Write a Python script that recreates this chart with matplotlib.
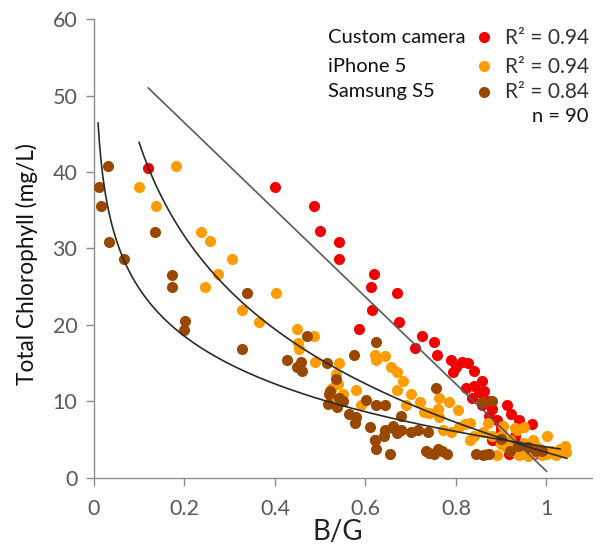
import numpy as np
import matplotlib
matplotlib.use("Agg")
import matplotlib.pyplot as plt

plt.rcParams['font.family'] = ['Lato', 'DejaVu Sans']

# B/G ratio vs total chlorophyll
custom_x = [0.119, 0.400, 0.487, 0.500, 0.542, 0.542, 0.619, 0.612, 0.670, 0.614,
            0.674, 0.586, 0.725, 0.751, 0.710, 0.757, 0.789, 0.814, 0.827, 0.793,
            0.823, 0.857, 0.862, 0.836, 0.857, 0.912, 0.921, 0.874, 0.968, 0.900,
            0.891, 0.934, 0.972, 0.917, 0.800, 0.840, 0.850, 0.870, 0.880, 0.890,
            0.900, 0.930, 0.950, 0.960, 0.880, 0.940, 0.840]
custom_y = [40.6, 38.0, 35.5, 32.3, 30.9, 28.6, 26.7, 25.0, 24.2, 21.9,
            20.4, 19.5, 18.6, 17.7, 17.0, 16.0, 15.4, 15.2, 15.0, 13.9,
            11.8, 12.7, 11.3, 10.4, 9.5, 9.5, 8.3, 8.1, 7.0, 6.5,
            4.9, 4.4, 3.1, 3.1, 14.5, 14.0, 11.2, 10.0, 9.0, 7.5,
            6.0, 5.5, 4.0, 3.0, 5.0, 7.5, 12.0]

iphone_x = [0.182, 0.100, 0.138, 0.237, 0.257, 0.304, 0.274, 0.246, 0.403, 0.328,
            0.365, 0.449, 0.487, 0.450, 0.454, 0.489, 0.542, 0.534, 0.580, 0.623,
            0.643, 0.657, 0.670, 0.683, 0.670, 0.525, 0.591, 0.721, 0.729, 0.763,
            0.785, 0.804, 0.831, 0.831, 0.772, 0.806, 0.866, 0.900, 0.934, 0.951,
            1.002, 1.040, 1.044, 1.002, 0.968, 0.926, 0.900, 0.985, 0.678, 0.763,
            0.880, 0.910, 0.920, 0.940, 0.950, 0.960, 0.970, 0.980, 0.990, 1.010,
            1.020, 1.030, 0.890, 0.930, 0.905, 0.960, 0.870, 0.860, 0.840, 0.820,
            0.790, 0.740, 0.700, 0.690, 0.760, 0.620, 0.540, 0.550, 0.530]
iphone_y = [40.8, 38.0, 35.5, 32.2, 31.0, 28.6, 26.6, 25.0, 24.2, 21.9,
            20.4, 19.5, 18.6, 17.6, 16.8, 15.1, 15.0, 13.6, 11.5, 15.4,
            15.9, 14.5, 13.8, 12.7, 11.5, 11.8, 9.5, 9.9, 8.6, 10.4,
            9.9, 8.8, 7.2, 4.9, 6.3, 6.7, 3.1, 5.4, 6.3, 6.7,
            5.4, 4.2, 3.3, 3.1, 3.1, 3.5, 4.4, 3.8, 6.3, 7.9,
            5.5, 4.0, 5.0, 3.0, 4.5, 3.5, 5.0, 4.0, 3.0, 3.5,
            3.0, 3.8, 3.0, 6.5, 6.8, 2.8, 7.2, 6.0, 5.5, 7.0,
            6.0, 8.5, 11.0, 9.5, 9.0, 16.0, 12.3, 11.0, 10.4]

samsung_x = [0.010, 0.031, 0.016, 0.034, 0.066, 0.134, 0.172, 0.172, 0.338, 0.202,
             0.198, 0.328, 0.470, 0.623, 0.574, 0.427, 0.449, 0.457, 0.515, 0.534,
             0.521, 0.542, 0.517, 0.538, 0.563, 0.576, 0.602, 0.623, 0.644, 0.609,
             0.621, 0.623, 0.654, 0.644, 0.661, 0.678, 0.678, 0.717, 0.738, 0.755,
             0.734, 0.751, 0.780, 0.857, 0.844, 0.874, 0.900, 0.976, 0.938, 0.760,
             0.740, 0.770, 0.660, 0.670, 0.640, 0.620, 0.700, 0.550, 0.520, 0.580,
             0.460, 0.920, 0.960, 0.990, 0.860, 0.880]
samsung_y = [38.0, 40.8, 35.5, 30.9, 28.6, 32.2, 26.5, 25.0, 24.2, 20.5,
             19.3, 16.9, 18.6, 17.7, 16.0, 15.4, 14.5, 15.2, 15.0, 12.9,
             11.3, 10.4, 9.7, 9.3, 8.3, 7.2, 10.2, 9.5, 9.5, 6.7,
             4.9, 3.8, 3.1, 6.3, 6.5, 6.3, 8.1, 6.3, 6.0, 11.8,
             3.5, 3.1, 3.1, 9.9, 3.1, 3.1, 5.1, 3.5, 4.2, 3.8,
             3.2, 3.5, 6.8, 5.8, 5.5, 5.0, 6.0, 10.0, 11.0, 8.0,
             14.0, 3.5, 4.0, 3.5, 3.0, 10.0]

# trend lines: custom camera linear, phones logarithmic (y = a - b*ln x)
custom_fit = (57.85, -57.0)       # intercept, slope
custom_range = (0.12, 1.0)
iphone_fit = (3.31, 17.59)
iphone_range = (0.0996, 1.045)
samsung_fit = (4.03, 9.0)
samsung_range = (0.009, 1.03)

labels = ['Custom camera', 'iPhone 5', 'Samsung S5']
r2 = ['0.94', '0.94', '0.84']
colors = ['#f20000', '#ff9c00', '#9a4700']

W, H = 603, 548
fig = plt.figure(figsize=(W / 100, H / 100), dpi=100)
ax = fig.add_axes([94 / W, 1 - 477.7 / H, (591.7 - 94) / W, (477.7 - 19.3) / H])

ax.scatter(custom_x, custom_y, s=64, color=colors[0], zorder=2, linewidths=0)
ax.scatter(iphone_x, iphone_y, s=64, color=colors[1], zorder=3, linewidths=0)
ax.scatter(samsung_x, samsung_y, s=64, color=colors[2], zorder=4, linewidths=0)

xc = np.linspace(custom_range[0], custom_range[1], 100)
ax.plot(xc, custom_fit[0] + custom_fit[1] * xc, color='#5a5a5a', lw=1.2, zorder=5)
xi = np.linspace(iphone_range[0], iphone_range[1], 200)
ax.plot(xi, iphone_fit[0] - iphone_fit[1] * np.log(xi), color='#2b2b2b', lw=1.2, zorder=5)
xs = np.linspace(samsung_range[0], samsung_range[1], 300)
ax.plot(xs, samsung_fit[0] - samsung_fit[1] * np.log(xs), color='#2b2b2b', lw=1.2, zorder=5)

ax.set_xlim(0, 1.1)
ax.set_ylim(0, 60)
ax.set_xticks([0, 0.2, 0.4, 0.6, 0.8, 1.0])
ax.set_xticklabels(['0', '0.2', '0.4', '0.6', '0.8', '1'])
ax.set_yticks(range(0, 61, 10))

for s in ['top', 'right']:
    ax.spines[s].set_visible(False)
for s in ['left', 'bottom']:
    ax.spines[s].set_color('#8c8c8c')
    ax.spines[s].set_linewidth(1.0)
ax.tick_params(colors='#8c8c8c', labelcolor='#595959', labelsize=15.5, length=6, width=1, direction='out')
ax.tick_params(axis='x', pad=9)
ax.tick_params(axis='y', pad=6)

ax.set_xlabel('B/G', fontsize=20, color='#222222', va='center')
ax.xaxis.set_label_coords((338 - 94) / 497.7, (477.7 - 532) / 458.4)
ax.set_ylabel('Total Chlorophyll (mg/L)', fontsize=16.3, color='#111111', va='center')
ax.yaxis.set_label_coords((26.7 - 94) / 497.7, (477.7 - 264.5) / 458.4)

# legend block, top right
rows_y = [37.5, 66.5, 92]
for i in range(3):
    fig.text(328 / W, 1 - rows_y[i] / H, labels[i], fontsize=14.5, color='#111111',
             ha='left', va='center')
    fig.text(589 / W, 1 - rows_y[i] / H, 'R² = ' + r2[i], fontsize=15, color='#333333',
             ha='right', va='center')
    ax.scatter([(484 - 94) / (591.7 - 94)], [(477.7 - rows_y[i]) / (477.7 - 19.3)],
               s=64, color=colors[i], linewidths=0, transform=ax.transAxes,
               clip_on=False, zorder=6)
fig.text(589 / W, 1 - 116 / H, 'n = 90', fontsize=14.5, color='#111111', ha='right', va='center')

fig.savefig('out.png', dpi=100)
